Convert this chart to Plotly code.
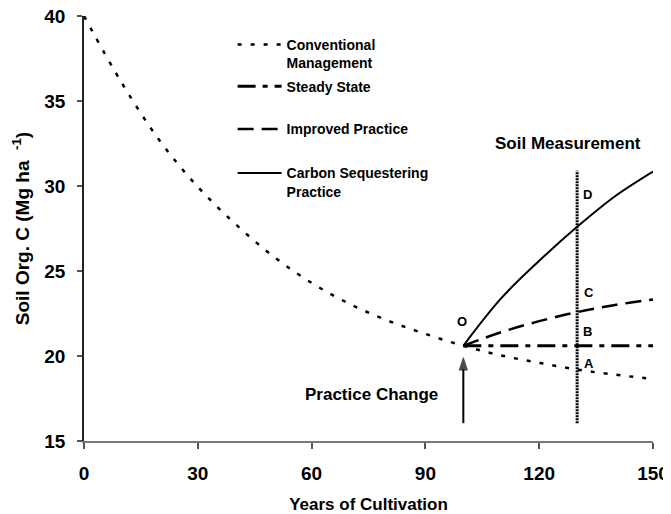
import plotly.graph_objects as go

# ---- data ----
years_conv = [0, 10, 20, 30, 40, 50, 60, 70, 80, 90, 100, 110, 120, 130, 140, 150]
soc_conv = [40.0, 36.05, 32.65, 29.95, 27.75, 25.85, 24.3, 23.07, 22.09, 21.3, 20.6,
            20.03, 19.6, 19.2, 18.9, 18.65]

years_new = [100, 110, 120, 130, 140, 150]
soc_steady = [20.6, 20.6, 20.6, 20.6, 20.6, 20.6]
soc_improved = [20.6, 21.4, 22.05, 22.58, 23.0, 23.33]
soc_carbon = [20.6, 23.4, 25.6, 27.6, 29.4, 30.85]

measure_year = [130, 130]
measure_range = [16.05, 30.9]

arrow_year = [100, 100]
arrow_range = [16.05, 19.9]

point_labels = ["O", "D", "C", "B", "A"]
point_x = [99.6, 132.8, 133.0, 132.8, 133.0]
point_y = [22.02, 29.51, 23.72, 21.43, 19.57]

x_ticks = [0, 30, 60, 90, 120, 150]
y_ticks = [15, 20, 25, 30, 35, 40]

FONT = "Liberation Sans, Arial, sans-serif"
LEG_FONT = dict(family=FONT, size=14, color="black", weight="bold")

fig = go.Figure()

fig.add_trace(go.Scatter(
    x=years_conv, y=soc_conv, mode="lines", line_shape="spline",
    name="Conventional<br>Management", legend="legend",
    line=dict(color="black", width=2.5, dash="4px,9px")))
fig.add_trace(go.Scatter(
    x=years_new, y=soc_steady, mode="lines",
    name="Steady State", legend="legend2",
    line=dict(color="black", width=3, dash="18px,7px,5px,7px")))
fig.add_trace(go.Scatter(
    x=years_new, y=soc_improved, mode="lines", line_shape="spline",
    name="Improved Practice", legend="legend3",
    line=dict(color="black", width=2.5, dash="16px,8px")))
fig.add_trace(go.Scatter(
    x=years_new, y=soc_carbon, mode="lines", line_shape="spline",
    name="Carbon Sequestering<br>Practice", legend="legend4",
    line=dict(color="black", width=2)))
fig.add_trace(go.Scatter(
    x=measure_year, y=measure_range, mode="lines", showlegend=False,
    line=dict(color="black", width=3, dash="2px,1px")))
# practice change arrow
fig.add_trace(go.Scatter(
    x=arrow_year, y=arrow_range, mode="lines+markers", showlegend=False,
    line=dict(color="black", width=2),
    marker=dict(symbol="arrow", size=[0, 13], angleref="previous", color="black",
                line=dict(width=1, color="black"))))

fig.add_annotation(x=75.8, y=17.75, xref="x", yref="y", text="Practice Change", showarrow=False,
                   font=dict(family=FONT, size=17, color="black", weight="bold"))
fig.add_annotation(x=127.7, y=32.49, xref="x", yref="y", text="Soil Measurement", showarrow=False,
                   font=dict(family=FONT, size=17, color="black", weight="bold"))
for lab, px, py in zip(point_labels, point_x, point_y):
    fig.add_annotation(x=px, y=py, xref="x", yref="y", text=lab, showarrow=False,
                       font=dict(family=FONT, size=13, color="black", weight="bold"))


def leg(ypos):
    return dict(x=0.2612, y=ypos, xanchor="left", yanchor="top",
                bgcolor="rgba(0,0,0,0)", valign="top", itemwidth=44, font=LEG_FONT)


fig.update_layout(
    width=663, height=506,
    margin=dict(l=76, r=18, t=8, b=73, autoexpand=False),
    paper_bgcolor="white", plot_bgcolor="white",
    font=dict(family=FONT, color="black"),
    showlegend=True,
    legend=leg(0.9694),
    legend2=leg(0.8713),
    legend3=leg(0.7711),
    legend4=leg(0.6675),
    xaxis=dict(range=[0, 150], tickvals=x_ticks, ticks="outside", ticklen=6,
               tickcolor="#555", tickwidth=1.5, showline=True, linecolor="#777", linewidth=2,
               showgrid=False, zeroline=False, ticklabelstandoff=8, automargin=False,
               ticklabeloverflow="allow",
               tickfont=dict(family=FONT, size=19, color="black", weight="bold"),
               title=dict(text="Years of Cultivation", standoff=17,
                          font=dict(family=FONT, size=17, color="black", weight="bold"))),
    yaxis=dict(range=[15, 40], tickvals=y_ticks, ticks="outside", ticklen=5,
               tickcolor="#555", tickwidth=1.5, showline=True, linecolor="#222", linewidth=1.5,
               showgrid=False, zeroline=False, ticklabelstandoff=8, automargin=False,
               ticklabeloverflow="allow",
               tickfont=dict(family=FONT, size=19, color="black", weight="bold"),
               title=dict(text="Soil Org. C (Mg ha\u00a0 <sup>-1</sup>)", standoff=10,
                          font=dict(family=FONT, size=19, color="black", weight="bold"))),
)

fig.write_html("out.html")
